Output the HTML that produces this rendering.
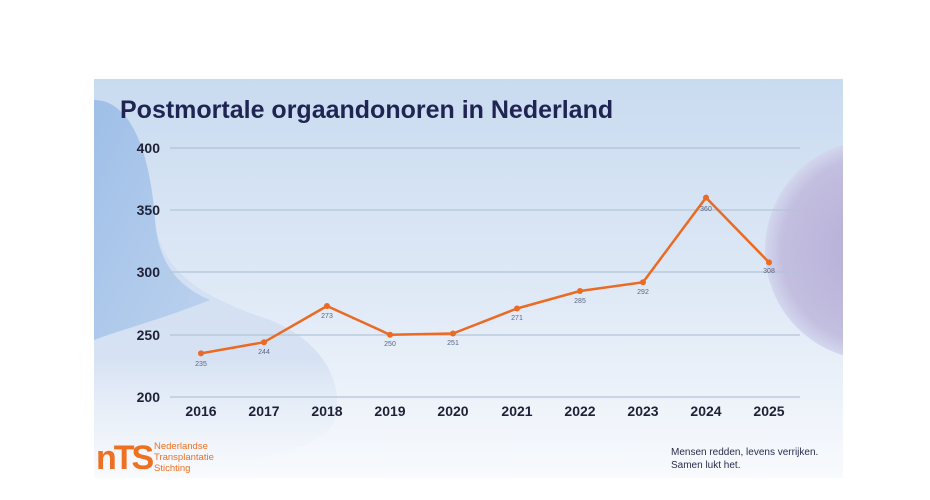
<!DOCTYPE html>
<html><head><meta charset="utf-8"><style>
body{margin:0;width:930px;height:500px;background:#fff;overflow:hidden;font-family:"Liberation Sans",sans-serif}
</style></head><body>
<svg width="930" height="500" xmlns="http://www.w3.org/2000/svg" style="position:absolute;left:0;top:0">
<defs>
<linearGradient id="bg" x1="0" y1="0" x2="0" y2="1">
<stop offset="0" stop-color="#c9dbf0"/><stop offset="0.6" stop-color="#e2ebf7"/><stop offset="1" stop-color="#f8fafd"/>
</linearGradient>
<radialGradient id="pc" cx="0.5" cy="0.5" r="0.5">
<stop offset="0" stop-color="#b4acd6"/><stop offset="0.85" stop-color="#c3bfe0"/><stop offset="1" stop-color="#d3d7ee"/>
</radialGradient>
<linearGradient id="lb" x1="0" y1="0" x2="1" y2="1">
<stop offset="0" stop-color="#9fbfe8"/><stop offset="1" stop-color="#bcd2ee"/>
</linearGradient>
<linearGradient id="fade" x1="0" y1="0" x2="0" y2="1">
<stop offset="0" stop-color="#cddcf2"/><stop offset="0.7" stop-color="#d6e2f3"/><stop offset="1" stop-color="#eef3fa" stop-opacity="0"/>
</linearGradient>
<clipPath id="cp"><rect x="94" y="79" width="749" height="399"/></clipPath>
</defs>
<rect x="94" y="79" width="749" height="399" fill="url(#bg)"/>
<g clip-path="url(#cp)">
<path d="M94 100 C130 100 150 150 155 220 C160 275 210 300 270 320 C320 340 345 380 335 420 C320 460 200 470 94 470 Z" fill="url(#fade)"/>
<path d="M94 100 C130 100 150 150 155 220 C158 260 175 285 210 300 C160 320 120 330 94 340 Z" fill="url(#lb)"/>
<circle cx="875" cy="250" r="110" fill="url(#pc)"/>
</g>
<text x="120" y="118" font-size="25" font-weight="bold" fill="#1f2452">Postmortale orgaandonoren in Nederland</text>
<g stroke="#b4c4d8" stroke-width="1.2">
<line x1="170" y1="148" x2="800" y2="148"/><line x1="170" y1="210" x2="800" y2="210"/>
<line x1="170" y1="272" x2="800" y2="272"/><line x1="170" y1="335" x2="800" y2="335"/>
<line x1="170" y1="397" x2="800" y2="397"/>
</g>
<g font-size="14" font-weight="bold" fill="#1f2237" text-anchor="end">
<text x="160" y="153">400</text><text x="160" y="215">350</text><text x="160" y="277">300</text>
<text x="160" y="340">250</text><text x="160" y="402">200</text>
</g>
<g font-size="14" font-weight="bold" fill="#1f2237" text-anchor="middle">
<text x="201" y="416">2016</text><text x="264" y="416">2017</text><text x="327" y="416">2018</text>
<text x="390" y="416">2019</text><text x="453" y="416">2020</text><text x="517" y="416">2021</text>
<text x="580" y="416">2022</text><text x="643" y="416">2023</text><text x="706" y="416">2024</text><text x="769" y="416">2025</text>
</g>
<polyline fill="none" stroke="#ea6b24" stroke-width="2.5" stroke-linejoin="round" points="201,353.4 264,342.2 327,306 390,334.7 453,333.5 517,308.5 580,291 643,282.3 706,197.6 769,262.4"/>
<g fill="#ea6b24">
<circle cx="201" cy="353.4" r="3"/><circle cx="264" cy="342.2" r="3"/><circle cx="327" cy="306" r="3"/>
<circle cx="390" cy="334.7" r="3"/><circle cx="453" cy="333.5" r="3"/><circle cx="517" cy="308.5" r="3"/>
<circle cx="580" cy="291" r="3"/><circle cx="643" cy="282.3" r="3"/><circle cx="706" cy="197.6" r="3"/><circle cx="769" cy="262.4" r="3"/>
</g>
<g font-size="7" fill="#5a6680" text-anchor="middle">
<text x="201" y="366">235</text><text x="264" y="354">244</text><text x="327" y="318">273</text>
<text x="390" y="346">250</text><text x="453" y="345">251</text><text x="517" y="320">271</text>
<text x="580" y="303">285</text><text x="643" y="294">292</text><text x="706" y="211">360</text><text x="769" y="273">308</text>
</g>
<text x="96" y="469" font-size="34" font-weight="bold" fill="#ee7021" letter-spacing="-3">nTS</text>
<g font-size="9.5" fill="#ee7021">
<text x="154" y="449">Nederlandse</text><text x="154" y="460">Transplantatie</text><text x="154" y="471">Stichting</text>
</g>
<g font-size="10" fill="#2a2d4a">
<text x="671" y="455">Mensen redden, levens verrijken.</text><text x="671" y="468">Samen lukt het.</text>
</g>
</svg>
</body></html>
